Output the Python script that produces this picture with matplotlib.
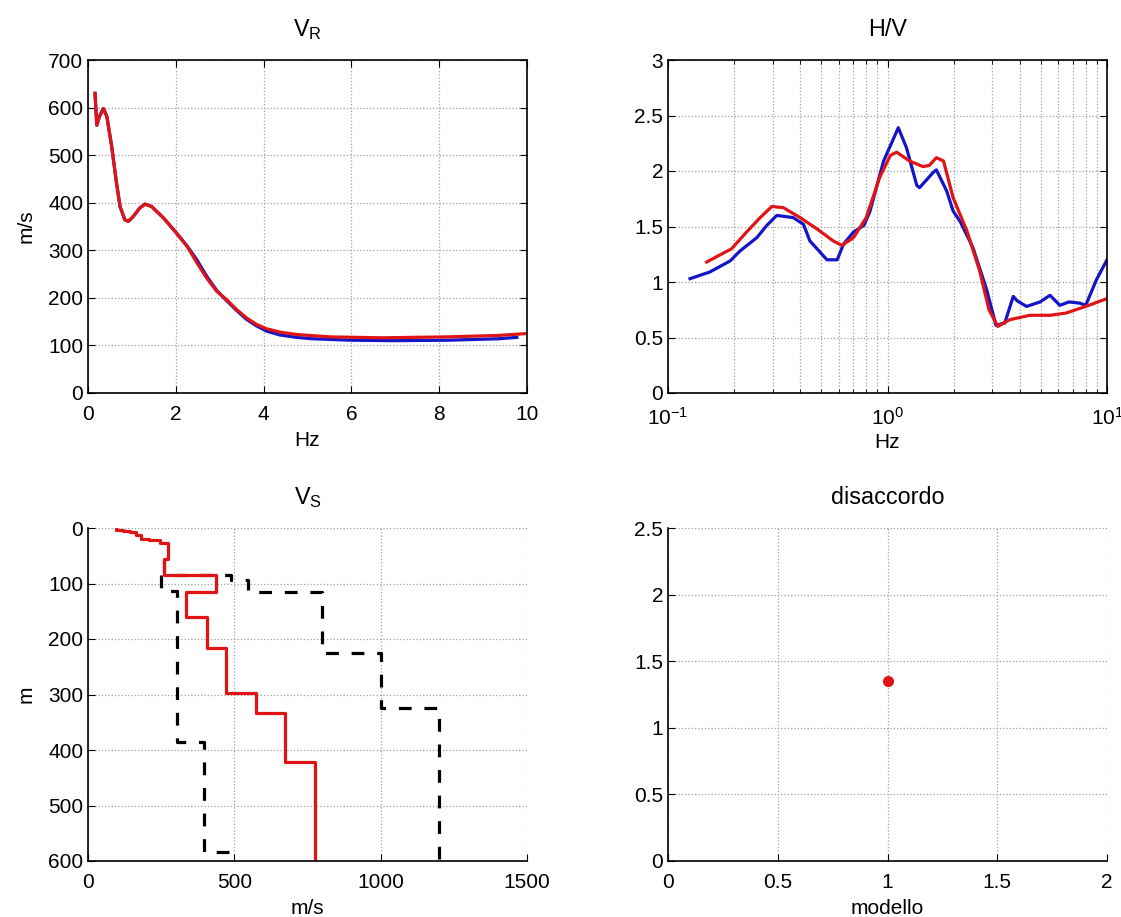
import numpy as np
import matplotlib
matplotlib.use("Agg")
import matplotlib.pyplot as plt
from matplotlib.ticker import LogLocator, NullFormatter

plt.rcParams['font.family'] = ['Liberation Sans', 'DejaVu Sans']
plt.rcParams['font.size'] = 14
plt.rcParams['xtick.labelsize'] = 15
plt.rcParams['ytick.labelsize'] = 15
plt.rcParams['axes.labelsize'] = 15
plt.rcParams['mathtext.fontset'] = 'custom'
plt.rcParams['mathtext.rm'] = 'Liberation Sans'

# --- V_R dispersion curve (Hz, m/s)
vr_f_mod = [0.16, 0.2, 0.26, 0.35, 0.43, 0.54, 0.65, 0.73, 0.84, 0.92, 1.03, 1.18, 1.30,
            1.45, 1.72, 1.98, 2.25, 2.48, 2.70, 2.93, 3.16, 3.39, 3.61, 3.84, 4.07, 4.37,
            4.75, 5.5, 6.7, 8.2, 9.35, 10.0]
vr_v_mod = [630, 563, 581, 598, 581, 518, 441, 392, 364, 361, 371, 389, 397,
            392, 368, 340, 309, 274, 242, 214, 196, 175, 158, 144, 135, 128,
            123, 118, 116, 118, 121, 125]
vr_f_obs = [0.16, 0.2, 0.26, 0.35, 0.43, 0.54, 0.65, 0.73, 0.84, 0.92, 1.03, 1.18, 1.30,
            1.45, 1.72, 1.98, 2.25, 2.48, 2.70, 2.93, 3.16, 3.39, 3.61, 3.84, 4.07, 4.37,
            4.75, 5.1, 6.0, 7.0, 8.2, 9.35, 9.77]
vr_v_obs = [630, 563, 581, 598, 581, 518, 441, 392, 364, 361, 371, 389, 397,
            392, 368, 340, 310, 280, 246, 216, 194, 173, 155, 141, 130, 122,
            117, 114, 111, 110, 111, 114, 117]

# --- H/V curve
hv_f_obs = [0.126, 0.155, 0.192, 0.213, 0.254, 0.282, 0.313, 0.372, 0.414, 0.443, 0.53,
            0.59, 0.63, 0.70, 0.78, 0.83, 0.96, 1.12, 1.22, 1.36, 1.40, 1.62, 1.67, 1.86,
            1.99, 2.15, 2.45, 2.83, 3.12, 3.42, 3.74, 3.9, 4.3, 4.95, 5.5, 6.1, 6.7, 7.5,
            8.0, 8.95, 10.0]
hv_a_obs = [1.03, 1.09, 1.19, 1.28, 1.40, 1.51, 1.60, 1.58, 1.52, 1.37, 1.20,
            1.20, 1.34, 1.45, 1.51, 1.63, 2.09, 2.39, 2.21, 1.87, 1.85, 1.99, 2.01, 1.82,
            1.64, 1.54, 1.31, 0.93, 0.61, 0.63, 0.87, 0.83, 0.78, 0.82, 0.88, 0.79, 0.82, 0.81,
            0.79, 1.02, 1.20]
hv_f_mod = [0.15, 0.195, 0.228, 0.263, 0.297, 0.335, 0.40, 0.476, 0.566, 0.62, 0.70,
            0.80, 0.92, 1.03, 1.10, 1.26, 1.45, 1.55, 1.67, 1.80, 1.99, 2.3, 2.63, 2.9,
            3.18, 3.6, 4.45, 5.5, 6.5, 8.0, 10.0]
hv_a_mod = [1.18, 1.30, 1.45, 1.58, 1.68, 1.67, 1.58, 1.48, 1.37, 1.33, 1.40,
            1.58, 1.94, 2.14, 2.17, 2.09, 2.04, 2.05, 2.12, 2.09, 1.76, 1.46, 1.10, 0.75,
            0.60, 0.66, 0.70, 0.70, 0.72, 0.78, 0.85]

# --- V_S profiles: layer velocities (m/s) and layer tops (m), bottom at 600 m
vs_best = [95, 120, 145, 165, 180, 210, 245, 275, 258, 437, 335, 405, 470, 574, 673, 777]
vs_best_top = [0, 3, 5, 8, 13, 19, 22, 27, 55, 85, 115, 160, 217, 298, 334, 422]
vs_min = [250, 303, 398, 485]
vs_min_top = [85, 114, 386, 583]
vs_max = [258, 490, 545, 800, 1000, 1200]
vs_max_top = [55, 85, 94, 115, 226, 325]
depth_max = 600

# --- misfit
mod_idx = [1]
misfit = [1.35]


def stepped(v, top, bottom):
    d = list(top[1:]) + [bottom]
    x = np.repeat(v, 2)
    y = np.ravel(np.column_stack([top, d]))
    return x, y


def grid_style(ax, which='major'):
    ax.grid(True, which=which, linestyle=':', color='#a0a0a0', linewidth=0.9)


fig = plt.figure(figsize=(11.21, 9.17), dpi=100)
W, H = 1121, 917


def add_ax(x0, y0, x1, y1):
    return fig.add_axes([x0 / W, 1 - y1 / H, (x1 - x0) / W, (y1 - y0) / H])


ax1 = add_ax(88, 60, 527, 393)
ax2 = add_ax(668, 60, 1107, 393)
ax3 = add_ax(88, 528, 527, 861)
ax4 = add_ax(668, 528, 1107, 861)

blue = '#1414c8'
red = '#e01414'
tpad = 17

# V_R
ax1.plot(vr_f_obs, vr_v_obs, color=blue, lw=2.3)
ax1.plot(vr_f_mod, vr_v_mod, color=red, lw=2.3)
ax1.set_xlim(0, 10)
ax1.set_ylim(0, 700)
ax1.set_xticks(range(0, 11, 2))
ax1.set_yticks(range(0, 701, 100))
ax1.set_title('V$_\\mathregular{R}$', pad=tpad)
ax1.set_xlabel('Hz', labelpad=5)
ax1.set_ylabel('m/s', labelpad=9)
grid_style(ax1)
ax1.tick_params(direction='in', top=True, right=True, length=5)
ax1.tick_params(axis='x', pad=9)

# H/V
ax2.plot(hv_f_obs, hv_a_obs, color=blue, lw=2.3)
ax2.plot(hv_f_mod, hv_a_mod, color=red, lw=2.3)
ax2.set_xscale('log')
ax2.set_xlim(0.1, 10)
ax2.set_ylim(0, 3)
ax2.set_yticks(np.arange(0, 3.01, 0.5))
ax2.set_yticklabels(['0', '0.5', '1', '1.5', '2', '2.5', '3'])
ax2.xaxis.set_minor_locator(LogLocator(base=10, subs=np.arange(2, 10)))
ax2.xaxis.set_minor_formatter(NullFormatter())
ax2.set_title('H/V', pad=tpad)
ax2.set_xlabel('Hz', labelpad=3)
grid_style(ax2, 'both')
ax2.tick_params(which='both', direction='in', top=True, right=True, length=5)
ax2.tick_params(which='minor', length=3)
ax2.tick_params(axis='x', which='major', pad=10)

# V_S
x, y = stepped(vs_min, vs_min_top, depth_max)
ax3.plot(x, y, color='k', lw=2.3, linestyle=(0, (4, 4)))
x, y = stepped(vs_max, vs_max_top, depth_max)
ax3.plot(x, y, color='k', lw=2.3, linestyle=(0, (4, 4)))
x, y = stepped(vs_best, vs_best_top, depth_max)
ax3.plot(x, y, color=red, lw=2.3)
ax3.set_xlim(0, 1500)
ax3.set_ylim(600, 0)
ax3.set_xticks([0, 500, 1000, 1500])
ax3.set_yticks(range(0, 601, 100))
ax3.set_title('V$_\\mathregular{S}$', pad=tpad)
ax3.set_xlabel('m/s', labelpad=5)
ax3.set_ylabel('m', labelpad=9)
grid_style(ax3)
ax3.spines['top'].set_visible(False)
ax3.spines['right'].set_visible(False)
ax3.tick_params(direction='in', length=5)
ax3.tick_params(axis='x', pad=9)

# misfit
ax4.plot(mod_idx, misfit, 'o', color=red, markersize=7)
ax4.set_xlim(0, 2)
ax4.set_ylim(0, 2.5)
ax4.set_xticks([0, 0.5, 1, 1.5, 2])
ax4.set_xticklabels(['0', '0.5', '1', '1.5', '2'])
ax4.set_yticks([0, 0.5, 1, 1.5, 2, 2.5])
ax4.set_yticklabels(['0', '0.5', '1', '1.5', '2', '2.5'])
ax4.set_title('disaccordo', pad=tpad)
ax4.set_xlabel('modello', labelpad=5)
grid_style(ax4)
ax4.spines['top'].set_visible(False)
ax4.spines['right'].set_visible(False)
ax4.tick_params(direction='in', length=5)
ax4.tick_params(axis='x', pad=9)

for ax in (ax1, ax2, ax3, ax4):
    for s in ax.spines.values():
        s.set_linewidth(1.2)

fig.savefig('out.png', dpi=100)
plt.close(fig)
